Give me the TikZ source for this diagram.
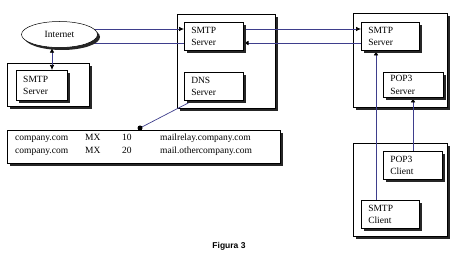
\documentclass[tikz,border=0pt]{standalone}
\usepackage{fontspec}
\setmainfont{Liberation Serif}
\newfontfamily\figfont{Liberation Sans}
\usetikzlibrary{shapes.geometric,arrows.meta,shadows}
\pgfdeclarelayer{outerlayer}
\pgfdeclarelayer{wirelayer}
\pgfsetlayers{outerlayer,wirelayer,main}
\newcommand{\boxfont}{\fontsize{9.5}{12.5}\selectfont}
\definecolor{wireblue}{RGB}{62,62,140}
\begin{document}
\begin{tikzpicture}[x=1pt,y=-1pt,
  frame/.style={draw=black, line width=0.6pt, fill=white, anchor=north west, inner sep=0pt,
    drop shadow={shadow xshift=3pt, shadow yshift=-3pt, fill=black!85, opacity=1}},
  unit/.style={draw=black, line width=0.5pt, fill=white, anchor=north west, inner xsep=7pt, inner ysep=0pt,
    align=left, font=\boxfont,
    drop shadow={shadow xshift=2.5pt, shadow yshift=-2.5pt, fill=black!85, opacity=1}},
  rec/.style={anchor=base west, inner sep=0pt, font=\boxfont},
  wire/.style={draw=wireblue, line width=0.7pt},
  tip/.style={-{Latex[color=black,length=5pt,width=4.5pt]}},
  bothtip/.style={{Latex[color=black,length=5pt,width=4.5pt]}-{Latex[color=black,length=5pt,width=4.5pt]}}
]
\useasboundingbox (0,0) rectangle (456,259);

% outer frames
\begin{pgfonlayer}{outerlayer}
\node[frame, minimum width=82pt, minimum height=43pt] (lframe) at (7,63) {};
\node[frame, minimum width=98pt, minimum height=94pt] (mframe) at (177,14) {};
\node[frame, minimum width=94pt, minimum height=94pt] (rframe) at (353,13) {};
\node[frame, minimum width=94pt, minimum height=93pt] (cframe) at (353,143) {};
\node[frame, minimum width=273pt, minimum height=33pt] (mxbox) at (7,130) {};
\end{pgfonlayer}

% ellipse
\node[ellipse, draw=black, line width=0.5pt, fill=white, minimum width=76pt, minimum height=26pt, inner sep=0pt,
  font=\fontsize{9.5}{11}\selectfont,
  drop shadow={shadow xshift=2.5pt, shadow yshift=-2.5pt, fill=black!85, opacity=1}] (inet) at (59.5,34.5) {Internet};

% inner boxes
\node[unit, text width=37pt, minimum height=30pt] (lsmtp) at (16,70) {SMTP\\Server};
\node[unit, text width=45pt, minimum height=28pt] (msmtp) at (184,22) {SMTP\\Server};
\node[unit, text width=45pt, minimum height=28pt] (dns) at (184,72) {DNS\\Server};
\node[unit, text width=44pt, minimum height=28pt] (rsmtp) at (361,22) {SMTP\\Server};
\node[unit, text width=46pt, minimum height=25pt] (pop3s) at (383,72) {POP3\\Server};
\node[unit, text width=45pt, minimum height=28pt] (pop3c) at (383,151) {POP3\\Client};
\node[unit, text width=44pt, minimum height=28pt] (smtpc) at (361,200) {SMTP\\Client};

% MX records
\node[rec] (r1a) at (15,141) {company.com};
\node[rec] (r1b) at (85,141) {MX};
\node[rec] (r1c) at (122,141) {10};
\node[rec] (r1d) at (160,141) {mailrelay.company.com};
\node[rec] (r2a) at (15,154) {company.com};
\node[rec] (r2b) at (85,154) {MX};
\node[rec] (r2c) at (122,154) {20};
\node[rec] (r2d) at (160,154) {mail.othercompany.com};

\node[circle, fill=black, inner sep=0pt, minimum size=5pt] (dot) at (140,128) {};

% caption
\node[font=\figfont\bfseries\fontsize{8.5}{10}\selectfont] (cap) at (229,246) {Figura 3};

% helper coordinates
\coordinate (ax) at (52,0);
\coordinate (i1) at (59,29);
\coordinate (i2) at (59,43);
\coordinate (s1) at (300,29);
\coordinate (s2) at (300,43);
\coordinate (v1) at (376,0);
\coordinate (v2) at (413,0);
\coordinate (d1) at (193,0);

\begin{pgfonlayer}{wirelayer}
\draw[wire, bothtip] (inet.south -| ax) -- (lsmtp.north -| ax);
\draw[wire, tip] (i1) -- (i1 -| msmtp.west);
\draw[wire] (i2) -- (i2 -| msmtp.west);
\draw[wire, tip] (s1 -| msmtp.east) -- (s1 -| rsmtp.west);
\draw[wire, tip] (s2 -| rsmtp.west) -- (s2 -| msmtp.east);
\draw[wire, tip] (v1 |- smtpc.north) -- (v1 |- rsmtp.south);
\draw[wire, tip] (v2 |- pop3c.north) -- (v2 |- pop3s.south);
\draw[wire] (dot.center) -- (d1 |- dns.south);
\end{pgfonlayer}
\end{tikzpicture}
\end{document}
